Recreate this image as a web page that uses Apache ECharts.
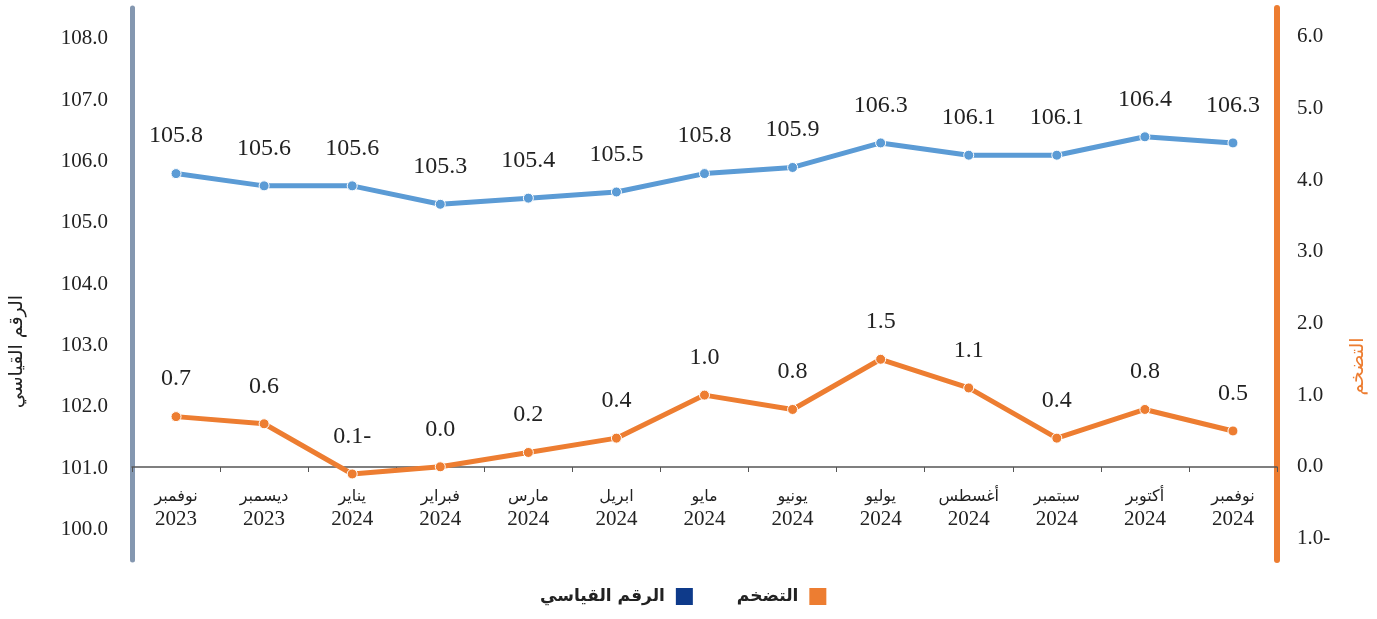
<!DOCTYPE html>
<html>
<head>
<meta charset="utf-8">
<script src="https://cdn.jsdelivr.net/npm/echarts@6/dist/echarts.min.js"></script>
<style>
html, body { margin: 0; padding: 0; background: #fff; }
#chart { width: 1377px; height: 619px; }
</style>
</head>
<body>
<div id="chart"></div>
<script>
// الأشهر
var months = ['نوفمبر\n2023', 'ديسمبر\n2023', 'يناير\n2024', 'فبراير\n2024', 'مارس\n2024', 'ابريل\n2024',
    'مايو\n2024', 'يونيو\n2024', 'يوليو\n2024', 'أغسطس\n2024', 'سبتمبر\n2024', 'أكتوبر\n2024', 'نوفمبر\n2024'];
// الرقم القياسي
var indexValues = [105.8, 105.6, 105.6, 105.3, 105.4, 105.5, 105.8, 105.9, 106.3, 106.1, 106.1, 106.4, 106.3];
// التضخم %
var inflationValues = [0.7, 0.6, -0.1, 0.0, 0.2, 0.4, 1.0, 0.8, 1.5, 1.1, 0.4, 0.8, 0.5];

var numFont = '"Liberation Serif", "DejaVu Serif", serif';

// negative numbers are written with the minus on the right
function fmt(v) {
    return v < -1e-9 ? Math.abs(v).toFixed(1) + '-' : Math.abs(v).toFixed(1);
}
function onlyWhole(v) {
    return Math.abs(v - Math.round(v)) < 1e-6 ? fmt(Math.round(v)) : '';
}

var chart = echarts.init(document.getElementById('chart'));
var o = {
    animation: false,
    textStyle: { fontFamily: numFont },
    grid: { left: 129, right: 100, top: 8, bottom: 59 },
    legend: {
        bottom: 7,
        left: 535,
        align: 'right',
        itemWidth: 19,
        itemHeight: 19,
        itemGap: 42,
        textStyle: { fontFamily: '"DejaVu Sans", sans-serif', fontWeight: 'bold', fontSize: 17, color: '#222', padding: [0, 5, 0, 0] },
        data: [
            { name: 'الرقم القياسي', icon: 'rect', itemStyle: { color: '#0e3a8a' } },
            { name: 'التضخم', icon: 'rect', itemStyle: { color: '#ed7d31' } }
        ]
    },
    xAxis: {
        type: 'category',
        data: months,
        offset: -93,
        axisLine: { onZero: false, lineStyle: { color: '#555', width: 1.5 } },
        axisTick: { show: true, length: 5, lineStyle: { color: '#555' } },
        axisLabel: {
            interval: 0,
            margin: 18,
            formatter: function (v) {
                var p = v.split('\n');
                return '{m|' + p[0] + '}\n{y|' + p[1] + '}';
            },
            rich: {
                m: { fontSize: 16, color: '#222', fontFamily: '"DejaVu Sans", sans-serif', lineHeight: 23 },
                y: { fontSize: 21, color: '#222', fontFamily: numFont, lineHeight: 23 }
            }
        },
        splitLine: { show: false }
    },
    yAxis: [
        {
            type: 'value',
            min: 99.5,
            max: 108.5,
            interval: 0.5,
            name: 'الرقم القياسي',
            nameLocation: 'middle',
            nameGap: 105,
            nameRotate: 90,
            nameTextStyle: { fontSize: 19, color: '#222', fontFamily: '"DejaVu Sans", sans-serif', padding: [0, 135, 0, 0] },
            axisLine: { show: true, lineStyle: { color: '#8497b0', width: 5 } },
            axisTick: { show: false },
            splitLine: { show: false },
            axisLabel: { margin: 24, color: '#222', fontSize: 21, formatter: onlyWhole }
        },
        {
            type: 'value',
            min: -1.3,
            max: 6.4,
            interval: 0.1,
            name: 'التضخم',
            nameLocation: 'middle',
            nameGap: 72,
            nameRotate: 90,
            nameTextStyle: { fontSize: 19, color: '#ed7d31', fontFamily: '"DejaVu Sans", sans-serif', padding: [0, 165, 0, 0] },
            axisLine: { show: true, lineStyle: { color: '#ed7d31', width: 6, cap: 'round' } },
            axisTick: { show: false },
            splitLine: { show: false },
            axisLabel: { margin: 20, color: '#222', fontSize: 21, formatter: onlyWhole }
        }
    ],
    series: [
        {
            name: 'الرقم القياسي',
            type: 'line',
            yAxisIndex: 0,
            data: indexValues,
            symbol: 'circle',
            symbolSize: 10,
            lineStyle: { color: '#5b9bd5', width: 5 },
            itemStyle: { color: '#5b9bd5', borderColor: '#fff', borderWidth: 1 },
            label: {
                show: true,
                position: 'top',
                distance: 20,
                color: '#222',
                fontSize: 24,
                fontFamily: numFont,
                formatter: function (p) { return fmt(p.value); }
            }
        },
        {
            name: 'التضخم',
            type: 'line',
            yAxisIndex: 1,
            data: inflationValues,
            symbol: 'circle',
            symbolSize: 10,
            lineStyle: { color: '#ed7d31', width: 5 },
            itemStyle: { color: '#ed7d31', borderColor: '#fff', borderWidth: 1 },
            label: {
                show: true,
                position: 'top',
                distance: 20,
                color: '#222',
                fontSize: 24,
                fontFamily: numFont,
                formatter: function (p) { return fmt(p.value); }
            }
        }
    ]
};
chart.setOption(o);
</script>
</body>
</html>
